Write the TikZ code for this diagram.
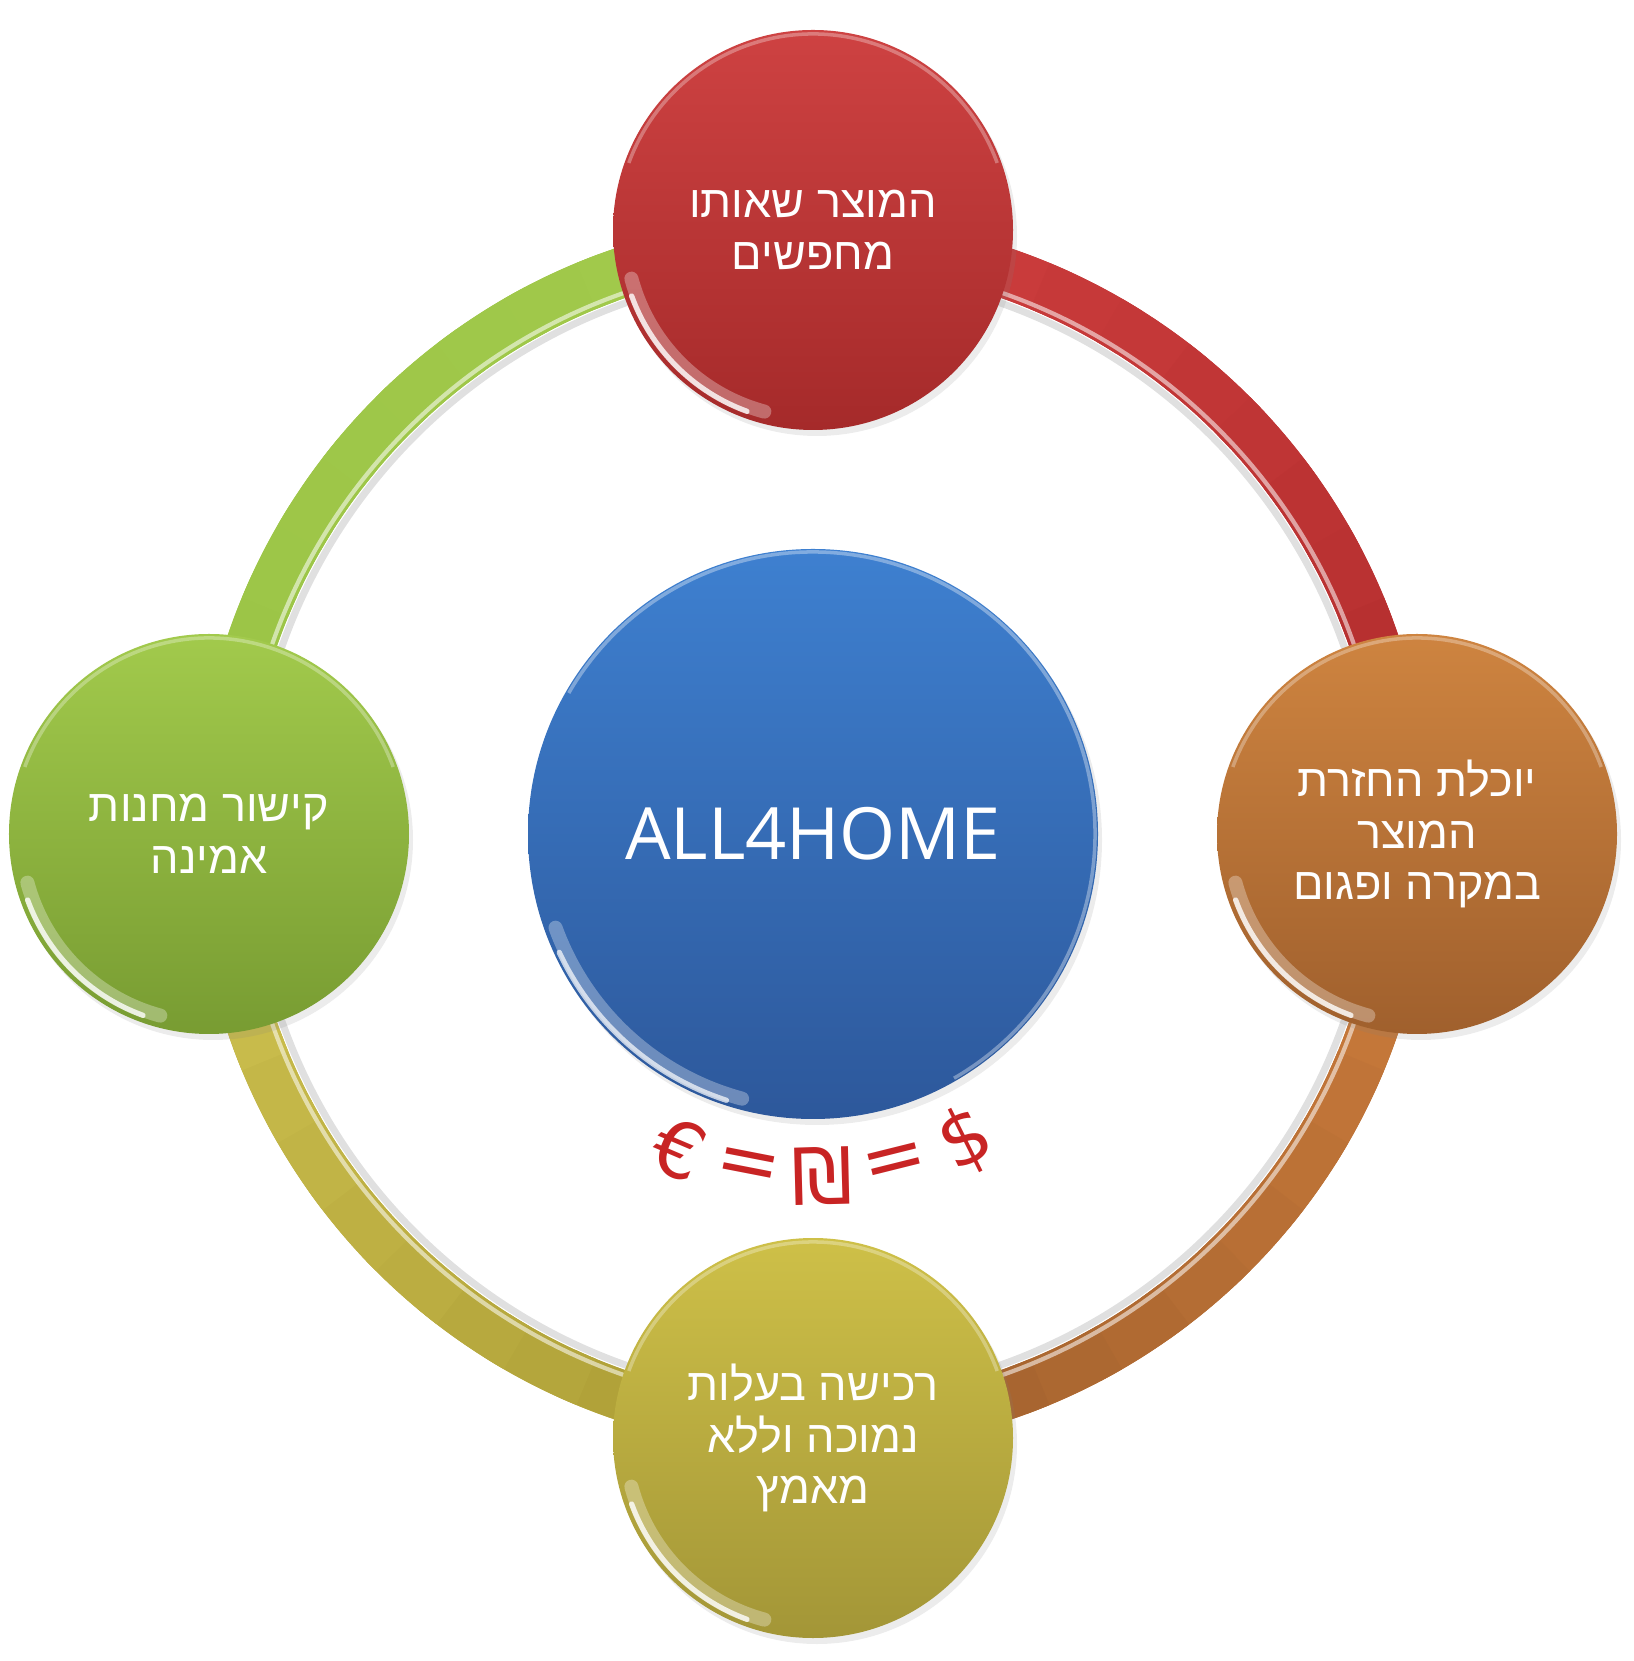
\documentclass[tikz,border=0pt]{standalone}
\usepackage{fontspec}
\setmainfont{Liberation Sans}
\newfontfamily\hebfont[Script=Hebrew]{Liberation Sans}
\newfontfamily\logofont{Open Sans}
\newfontfamily\symfont{DejaVu Sans}
\TeXXeTstate=1
\usetikzlibrary{shadows,backgrounds}

\definecolor{redTop}{RGB}{206,66,66}
\definecolor{redBot}{RGB}{165,42,42}
\definecolor{orTop}{RGB}{206,132,64}
\definecolor{orBot}{RGB}{160,96,45}
\definecolor{yeTop}{RGB}{206,192,72}
\definecolor{yeBot}{RGB}{163,150,55}
\definecolor{grTop}{RGB}{162,202,76}
\definecolor{grBot}{RGB}{120,156,50}
\definecolor{blTop}{RGB}{62,128,208}
\definecolor{blBot}{RGB}{45,88,155}
\definecolor{arcRedA}{RGB}{206,62,62}
\definecolor{arcRedB}{RGB}{178,45,45}
\definecolor{arcOrA}{RGB}{204,124,60}
\definecolor{arcOrB}{RGB}{160,96,45}
\definecolor{arcYeA}{RGB}{170,155,52}
\definecolor{arcYeB}{RGB}{206,194,80}
\definecolor{arcGrA}{RGB}{155,196,70}
\definecolor{arcGrB}{RGB}{162,202,76}
\definecolor{curRed}{RGB}{200,36,36}

\newcommand\hebline[1]{\beginR#1\endR}

\tikzset{
  ball/.style={circle, minimum size=4cm, inner sep=0pt, text=white, align=center,
    font=\hebfont\fontsize{12.8}{14.7}\selectfont,
    drop shadow={shadow xshift=0.04cm, shadow yshift=-0.06cm, opacity=0.15}},
  ringband/.style={line width=0.5cm},
  cur/.style={text=curRed, inner sep=0pt, font=\symfont\fontsize{22}{26}\selectfont}
}

\begin{document}
\begin{tikzpicture}
\useasboundingbox (-8.13,-8.27) rectangle (8.20,8.34);

% Radii: circle centres and ring band
\def\ringr{6.04}
\def\bandr{5.93}

% Hub
\node[circle, minimum size=5.7cm, inner sep=0pt, top color=blTop, bottom color=blBot,
  text=white, font=\logofont\fontsize{20.5}{24}\selectfont,
  drop shadow={shadow xshift=0.04cm, shadow yshift=-0.06cm, opacity=0.15}] (hub) at (0,0) {ALL4HOME};

% Outer circles
\node[ball, top color=redTop, bottom color=redBot] (prod) at (90:\ringr) {\hebline{המוצר שאותו}\\\hebline{מחפשים}};
\node[ball, top color=orTop, bottom color=orBot] (ret) at (0:\ringr) {\hebline{יוכלת החזרת}\\\hebline{המוצר}\\\hebline{במקרה ופגום}};
\node[ball, top color=yeTop, bottom color=yeBot] (buy) at (-90:\ringr) {\hebline{רכישה בעלות}\\\hebline{נמוכה וללא}\\\hebline{מאמץ}};
\node[ball, top color=grTop, bottom color=grBot] (link) at (180:\ringr) {\hebline{קישור מחנות}\\\hebline{אמינה}};

% Rim highlights
\foreach \n in {prod,ret,buy,link} {
  \draw[white, opacity=0.3, line width=4pt, line cap=round] ([shift={(195:1.88)}]\n.center) arc[start angle=195, end angle=255, radius=1.88];
  \draw[white, opacity=0.8, line width=1.5pt, line cap=round] ([shift={(200:1.93)}]\n.center) arc[start angle=200, end angle=250, radius=1.93];
  \draw[white, opacity=0.3, line width=1pt] ([shift={(20:1.96)}]\n.center) arc[start angle=20, end angle=160, radius=1.96];
}
\draw[white, opacity=0.3, line width=4pt, line cap=round] ([shift={(200:2.74)}]hub.center) arc[start angle=200, end angle=255, radius=2.74];
\draw[white, opacity=0.7, line width=1.5pt, line cap=round] ([shift={(205:2.8)}]hub.center) arc[start angle=205, end angle=252, radius=2.8];
\draw[white, opacity=0.35, line width=1pt] ([shift={(-60:2.82)}]hub.center) arc[start angle=-60, end angle=150, radius=2.82];

% Currency line
\foreach \ang/\sym [count=\i] in {247/€, 259/=, 271.5/₪, 284/=, 296.5/\$}
  \node[cur, rotate=\ang+90] (cur\i) at ([shift={(\ang:3.42)}]hub.center) {\sym};

% Ring arcs between the circles
\begin{scope}[on background layer]
\foreach \sa/\ea/\ca/\cb in {90/0/arcRedA/arcRedB, 0/-90/arcOrA/arcOrB, -90/-180/arcYeA/arcYeB, 180/90/arcGrA/arcGrB} {
  \draw[ringband, draw=\ca!50!\cb] ([shift={(\sa:\bandr)}]hub.center) arc[start angle=\sa, end angle=\ea, radius=\bandr];
  \foreach \k in {0,...,11} {
    \pgfmathsetmacro\pa{\sa+(\ea-\sa)*\k/12}
    \pgfmathsetmacro\pb{\sa+(\ea-\sa)*(\k+1.3)/12}
    \pgfmathtruncatemacro\mix{100-100*\k/11}
    \draw[ringband, draw=\ca!\mix!\cb] ([shift={(\pa:\bandr)}]hub.center) arc[start angle=\pa, end angle=\pb, radius=\bandr];
  }
}
\draw[white, opacity=0.55, line width=1.2pt] (hub.center) circle[radius=\bandr-0.2];
\draw[black, opacity=0.12, line width=2pt] (hub.center) circle[radius=\bandr-0.3];
\end{scope}
\end{tikzpicture}
\end{document}
